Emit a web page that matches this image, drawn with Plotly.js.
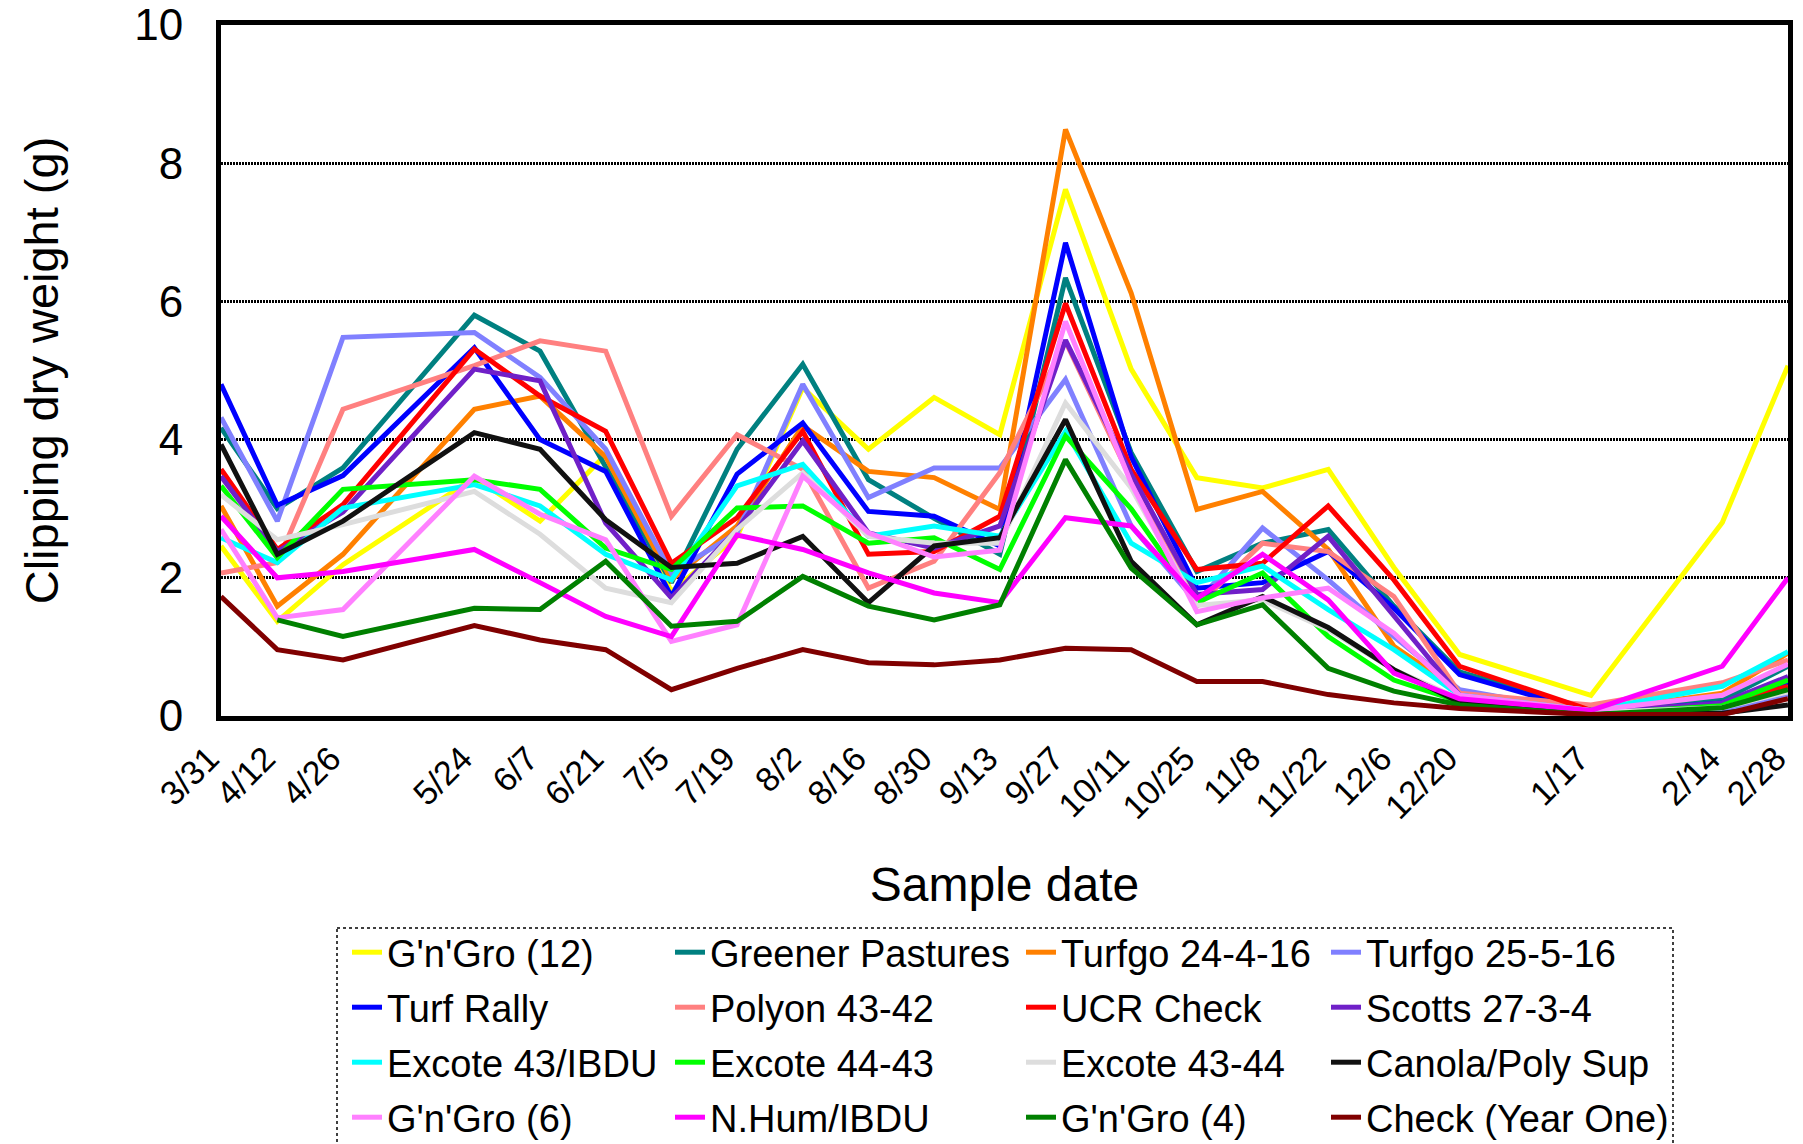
<!DOCTYPE html>
<html>
<head>
<meta charset="utf-8">
<script src="https://cdn.plot.ly/plotly-3.0.1.min.js"></script>
<style>html,body{margin:0;padding:0;background:#fff}</style>
</head>
<body>
<div id="chart" style="width:1803px;height:1144px"></div>
<script>
// Sample dates (non-leap span) and their tick labels
const sampleDates = ['2001-03-31','2001-04-12','2001-04-26','2001-05-24','2001-06-07','2001-06-21','2001-07-05','2001-07-19','2001-08-02','2001-08-16','2001-08-30','2001-09-13','2001-09-27','2001-10-11','2001-10-25','2001-11-08','2001-11-22','2001-12-06','2001-12-20','2002-01-17','2002-02-14','2002-02-28'];
const dateLabels = ['3/31','4/12','4/26','5/24','6/7','6/21','7/5','7/19','8/2','8/16','8/30','9/13','9/27','10/11','10/25','11/8','11/22','12/6','12/20','1/17','2/14','2/28'];

// Clipping dry weight (g) per treatment
const gnGro12        = [2.46,1.37,2.19,3.45,2.82,3.78,1.80,2.60,4.75,3.86,4.61,4.07,7.62,5.02,3.45,3.30,3.57,2.15,0.89,0.30,2.80,5.07];
const greenerPast    = [4.17,3.00,3.59,5.80,5.28,3.62,1.93,3.86,5.09,3.42,2.86,2.34,6.34,3.81,2.09,2.50,2.70,1.59,0.64,0.09,0.23,0.72];
const turfgo24       = [3.04,1.59,2.34,4.44,4.63,3.75,1.97,2.75,4.20,3.54,3.45,2.99,8.49,6.12,2.99,3.25,2.41,1.01,0.36,0.07,0.33,0.91];
const turfgo25       = [4.32,2.82,5.48,5.55,4.90,3.86,2.07,2.65,4.80,3.16,3.59,3.59,4.87,2.75,1.64,2.72,1.97,1.15,0.38,0.04,0.09,0.31];
const turfRally      = [4.80,3.05,3.48,5.33,4.00,3.54,1.73,3.50,4.24,2.96,2.89,2.46,6.85,3.75,1.85,1.93,2.38,1.56,0.60,0.05,0.19,0.48];
const polyon         = [2.07,2.22,4.44,5.07,5.43,5.28,2.89,4.07,3.57,1.85,2.24,3.52,5.42,3.42,1.59,2.50,2.38,1.73,0.33,0.16,0.48,0.81];
const ucrCheck       = [3.57,2.41,3.06,5.31,4.63,4.12,2.21,2.87,4.12,2.34,2.38,2.89,5.97,3.57,2.12,2.21,3.04,1.97,0.72,0.08,0.16,0.43];
const scotts         = [3.47,2.38,2.95,5.02,4.85,2.79,1.71,2.70,3.98,2.65,2.43,2.75,5.44,3.50,1.76,1.83,2.60,1.45,0.30,0.05,0.19,0.57];
const excote43ibdu   = [2.58,2.22,3.01,3.35,3.04,2.34,1.97,3.33,3.64,2.60,2.75,2.60,4.12,2.50,1.93,2.17,1.54,0.96,0.30,0.08,0.43,0.93];
const excote4443     = [3.33,2.29,3.28,3.42,3.28,2.43,2.12,3.01,3.04,2.50,2.58,2.12,4.05,3.00,1.64,2.07,1.15,0.52,0.21,0.03,0.15,0.52];
const excote4344     = [3.20,2.55,2.77,3.25,2.63,1.85,1.64,2.70,3.52,2.60,2.50,2.50,4.53,3.30,1.60,1.68,1.25,0.67,0.25,0.05,0.12,0.35];
const canolaPoly     = [3.93,2.34,2.82,4.10,3.86,2.84,2.15,2.21,2.60,1.64,2.46,2.58,4.29,2.24,1.32,1.73,1.28,0.67,0.20,0.03,0.04,0.16];
const gnGro6         = [2.70,1.42,1.54,3.47,2.92,2.55,1.08,1.32,3.47,2.65,2.30,2.40,5.71,3.37,1.51,1.71,1.85,1.20,0.30,0.08,0.30,0.75];
const nHumIbdu       = [2.89,2.00,2.09,2.41,1.93,1.44,1.15,2.62,2.41,2.07,1.78,1.64,2.87,2.75,1.70,2.34,1.68,0.62,0.25,0.08,0.72,2.00];
const gnGro4         = [null,1.39,1.15,1.56,1.54,2.24,1.30,1.37,2.02,1.59,1.39,1.61,3.71,2.14,1.32,1.61,0.69,0.36,0.16,0.02,0.12,0.38];
const checkYearOne   = [1.73,0.96,0.81,1.31,1.10,0.96,0.38,0.69,0.96,0.77,0.74,0.81,0.98,0.96,0.50,0.50,0.31,0.19,0.11,0.02,0.02,0.25];

const seriesNames  = ["G'n'Gro (12)","Greener Pastures","Turfgo 24-4-16","Turfgo 25-5-16",
                      "Turf Rally","Polyon 43-42","UCR Check","Scotts 27-3-4",
                      "Excote 43/IBDU","Excote 44-43","Excote 43-44","Canola/Poly Sup",
                      "G'n'Gro (6)","N.Hum/IBDU","G'n'Gro (4)","Check (Year One)"];
const seriesValues = [gnGro12,greenerPast,turfgo24,turfgo25,
                      turfRally,polyon,ucrCheck,scotts,
                      excote43ibdu,excote4443,excote4344,canolaPoly,
                      gnGro6,nHumIbdu,gnGro4,checkYearOne];
const seriesColors = ['#FFFF00','#008080','#FF8000','#8080FF',
                      '#0000FF','#FF8080','#FF0000','#7020C8',
                      '#00FFFF','#00FF00','#DDDDDD','#111111',
                      '#FF80FF','#FF00FF','#008000','#800000'];

const FONT = 'Liberation Sans, Arial, Helvetica, sans-serif';
const legendIds = ['legend','legend2','legend3','legend4'];

const traces = seriesNames.map((name, i) => ({
  type: 'scatter',
  mode: 'lines',
  name: name,
  x: sampleDates,
  y: seriesValues[i],
  line: {color: seriesColors[i], width: 5},
  legend: legendIds[i % 4],
  legendgroup: 'g' + i,
  connectgaps: false,
  hoverinfo: 'x+y+name'
}));

// pixel helpers for placing legend columns
const W = 1803, H = 1144, mL = 221, mR = 15, mT = 25, mB = 428;
const pw = W - mL - mR, ph = H - mT - mB;
const px = v => (v - mL) / pw;
const py = v => (H - mB - v) / ph;

const legendCommon = {
  font: {family: FONT, size: 38, color: '#000'},
  bgcolor: 'rgba(0,0,0,0)',
  borderwidth: 0,
  orientation: 'v',
  xanchor: 'left',
  yanchor: 'top',
  traceorder: 'grouped',
  tracegroupgap: 2.6,
  itemclick: false,
  itemdoubleclick: false
};
const colX = [347, 670, 1021, 1326];
const legendTop = 921;

const layout = {
  width: W, height: H,
  margin: {l: mL, r: mR, t: mT, b: mB, autoexpand: false},
  paper_bgcolor: '#fff',
  plot_bgcolor: '#fff',
  font: {family: FONT, color: '#000'},
  showlegend: true,
  xaxis: {
    type: 'date',
    range: [sampleDates[0], sampleDates[sampleDates.length - 1]],
    tickmode: 'array',
    tickvals: sampleDates,
    ticktext: dateLabels,
    tickangle: -45,
    tickfont: {family: FONT, size: 34, color: '#000'},
    ticklabeloverflow: 'allow',
    ticklabelshift: -12,
    ticklabelstandoff: 4,
    ticks: '',
    showgrid: false,
    zeroline: false,
    showline: true, linecolor: '#000', linewidth: 5, mirror: true,
    title: {text: 'Sample date', font: {family: FONT, size: 48, color: '#000'}, standoff: 44},
    automargin: false
  },
  yaxis: {
    range: [0, 10],
    tickmode: 'array',
    tickvals: [0, 2, 4, 6, 8, 10],
    tickfont: {family: FONT, size: 44, color: '#000'},
    ticks: '',
    showgrid: true, gridcolor: '#000', gridwidth: 2.5, griddash: '2px,1px',
    zeroline: false,
    showline: true, linecolor: '#000', linewidth: 5, mirror: true,
    ticklabelstandoff: 24,
    title: {text: 'Clipping dry weight (g)', font: {family: FONT, size: 47, color: '#000'}, standoff: 62},
    automargin: false
  },
  shapes: [{
    type: 'rect', xref: 'paper', yref: 'paper',
    x0: px(337), x1: px(1673), y0: py(928), y1: py(1160),
    line: {color: '#000', width: 1.5, dash: 'dot'},
    fillcolor: 'rgba(0,0,0,0)', layer: 'above'
  }]
};
legendIds.forEach((id, k) => {
  layout[id] = Object.assign({}, legendCommon, {x: px(colX[k]), y: py(legendTop)});
});

Plotly.newPlot('chart', traces, layout, {displayModeBar: false, responsive: false});
</script>
</body>
</html>
